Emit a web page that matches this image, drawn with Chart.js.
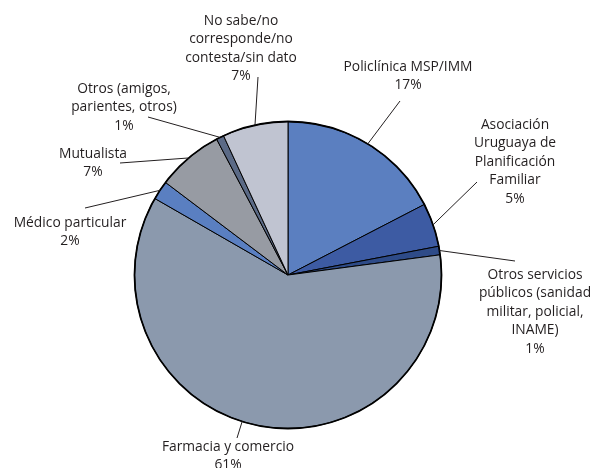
<!DOCTYPE html>
<html>
<head>
<meta charset="utf-8">
<script src="https://cdn.jsdelivr.net/npm/chart.js@4"></script>
<style>
  html, body { margin: 0; padding: 0; background: #fff; }
  #wrap { width: 598px; height: 468px; }
</style>
</head>
<body>
<div id="wrap"><canvas id="pieChart" width="598" height="468"></canvas></div>
<script>
// categorias (cada una en varias lineas, como en el original)
let categorias = [
  ['Policlínica MSP/IMM'],
  ['Asociación', 'Uruguaya de', 'Planificación', 'Familiar'],
  ['Otros servicios', 'públicos (sanidad', 'militar, policial,', 'INAME)'],
  ['Farmacia y comercio'],
  ['Médico particular'],
  ['Mutualista'],
  ['Otros (amigos,', 'parientes, otros)'],
  ['No sabe/no', 'corresponde/no', 'contesta/sin dato']
];
let valores = [17.4, 4.6, 0.9, 60.4, 2.0, 7.0, 0.8, 6.9]; // porcentajes estimados del grafico
let etiquetasPct = ['17%', '5%', '1%', '61%', '2%', '7%', '1%', '7%'];

let colores = ['#5b7fc0', '#3d5ba3', '#2e4b88', '#8b99ad', '#5a7fc1', '#979ba3', '#5b6a86', '#c0c4d1'];

// donde va el texto de cada etiqueta (centro x, y de la primera linea) y el final de la linea guia
let posEtiquetas = [
  { x: 408, y: 67, lx: 400, ly: 101 },
  { x: 515, y: 125, lx: 477, ly: 182 },
  { x: 535, y: 275, lx: 515, ly: 261 },
  { x: 228, y: 447, lx: 237, ly: 438 },
  { x: 70, y: 223, lx: 85, ly: 208 },
  { x: 93, y: 154, lx: 120, ly: 163 },
  { x: 124, y: 89, lx: 148, ly: 117 },
  { x: 241, y: 21, lx: 258, ly: 77 }
];

let etiquetasPlugin = {
  id: 'etiquetas',
  afterDatasetsDraw(chart) {
    let ctx = chart.ctx;
    let arcs = chart.getDatasetMeta(0).data;
    ctx.save();
    // borde exterior un poco mas grueso
    let a0 = arcs[0];
    ctx.beginPath();
    ctx.arc(a0.x, a0.y, a0.outerRadius, 0, Math.PI * 2);
    ctx.lineWidth = 1.8;
    ctx.strokeStyle = '#000';
    ctx.stroke();

    ctx.font = '13.8px "Open Sans"';
    ctx.fillStyle = '#231f20';
    ctx.textAlign = 'center';
    ctx.textBaseline = 'middle';
    let alto = 18.5;
    arcs.forEach((arc, i) => {
      let p = posEtiquetas[i];
      let ang = (arc.startAngle + arc.endAngle) / 2;
      // en porciones grandes la linea va hacia la etiqueta
      if (arc.endAngle - arc.startAngle > Math.PI) {
        let hacia = Math.atan2(p.ly - arc.y, p.lx - arc.x);
        while (hacia < arc.startAngle) hacia += Math.PI * 2;
        ang = Math.min(Math.max(hacia, arc.startAngle), arc.endAngle);
      }
      let ax = arc.x + Math.cos(ang) * arc.outerRadius;
      let ay = arc.y + Math.sin(ang) * arc.outerRadius;
      ctx.beginPath();
      ctx.moveTo(p.lx, p.ly);
      ctx.lineTo(ax, ay);
      ctx.lineWidth = 1;
      ctx.strokeStyle = '#231f20';
      ctx.stroke();
      let lineas = categorias[i].concat([etiquetasPct[i]]);
      lineas.forEach((t, j) => {
        ctx.fillText(t, p.x, p.y + j * alto);
      });
    });
    ctx.restore();
  }
};

let ctx = document.getElementById('pieChart').getContext('2d');

let pieChart = new Chart(ctx, {
  type: 'pie',
  data: {
    labels: categorias.map(c => c.join(' ')),
    datasets: [{
      data: valores,
      backgroundColor: colores,
      borderColor: '#000',
      borderWidth: 1
    }]
  },
  options: {
    responsive: false,
    animation: false,
    layout: {
      padding: { top: 121, bottom: 39, left: 0, right: 22 }
    },
    plugins: {
      legend: { display: false },
      tooltip: { enabled: false }
    }
  },
  plugins: [etiquetasPlugin]
});
</script>
</body>
</html>
